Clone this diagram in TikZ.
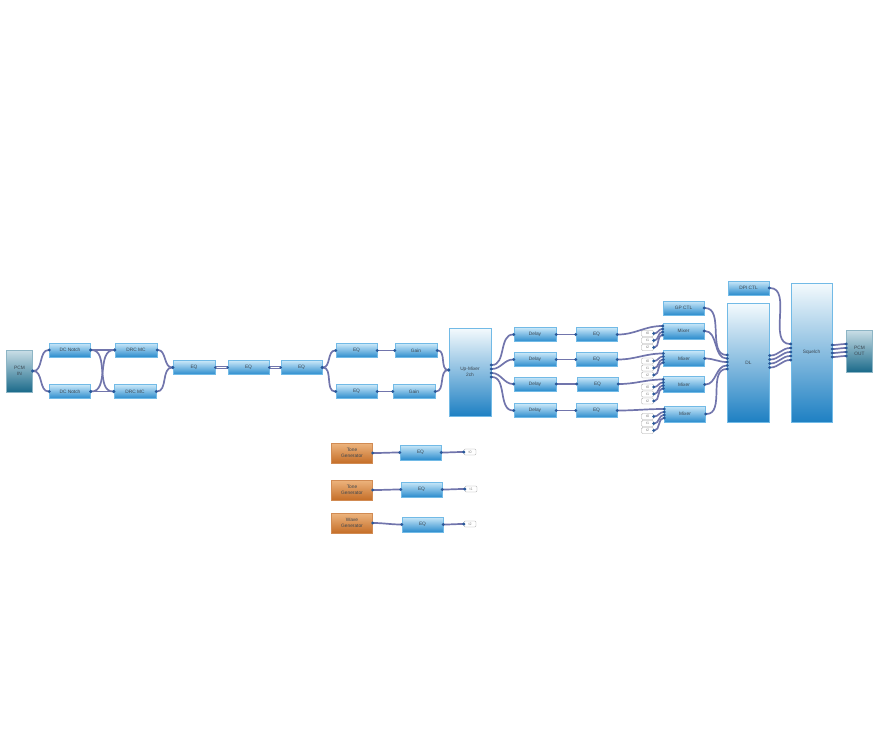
\documentclass[tikz,border=0pt]{standalone}
\usepackage{fontspec}
\setmainfont{Liberation Sans}
\usetikzlibrary{arrows.meta,calc}
\definecolor{btop}{HTML}{CAE8F9}
\definecolor{bbot}{HTML}{2B8CCD}
\definecolor{bbord}{HTML}{72BAE6}
\definecolor{gtop}{HTML}{F4FAFD}
\definecolor{gbot}{HTML}{1E80C3}
\definecolor{ptop}{HTML}{CADFE7}
\definecolor{pbot}{HTML}{1B6A8A}
\definecolor{otop}{HTML}{EDB47E}
\definecolor{obot}{HTML}{C56E28}
\definecolor{wirec}{HTML}{7175AC}
\definecolor{portc}{HTML}{28589A}
\definecolor{txtc}{HTML}{3C4650}
\tikzset{
 box/.style={rectangle, draw=bbord, line width=0.5pt, top color=btop, bottom color=bbot,
   inner sep=0pt, font=\fontsize{4.8}{5.6}\selectfont, text=txtc, align=center,
   minimum width=41pt, minimum height=14pt},
 bigbox/.style={box, top color=gtop, bottom color=gbot, minimum width=42pt},
 pcmbox/.style={box, draw=pbot!50, top color=ptop, bottom color=pbot, minimum width=26pt, minimum height=42pt},
 genbox/.style={box, draw=obot!80, top color=otop, bottom color=obot, minimum height=20pt},
 tagbox/.style={rectangle, rounded corners=1.2pt, draw=gray!70, fill=white, line width=0.4pt,
   minimum width=12pt, minimum height=6pt, inner sep=0pt, font=\fontsize{3.6}{4}\selectfont, text=gray},
 wire/.style={draw=wirec, line width=1.7pt,
   {Circle[length=2.8pt,color=portc]}-{Circle[length=2.8pt,color=portc]},
   shorten <=-1.4pt, shorten >=-1.4pt},
 dbl/.style={draw=wirec, line width=1.1pt, double=white, double distance=1.3pt},
 port/.style={fill=portc},
}
\begin{document}
\begin{tikzpicture}[x=1pt,y=-1pt]
\useasboundingbox (0,0) rectangle (875,753);
% ---- nodes
\node[pcmbox] (pin) at (19.5,371) {PCM\\IN};
\node[box] (dcn1) at (70,350) {DC Notch};
\node[box] (dcn2) at (70,391.5) {DC Notch};
\node[box, minimum width=42pt] (drc1) at (136,350) {DRC MC};
\node[box, minimum width=42pt] (drc2) at (135,391.5) {DRC MC};
\node[box, minimum width=42pt] (eqa) at (194,367.5) {EQ};
\node[box] (eqb) at (248.5,367.5) {EQ};
\node[box] (eqc) at (301.5,367.5) {EQ};
\node[box] (eqt) at (356.5,350.5) {EQ};
\node[box, minimum width=42pt] (gt) at (416,350.5) {Gain};
\node[box] (eql) at (356.5,391.5) {EQ};
\node[box, minimum width=42pt] (gb) at (414,391.5) {Gain};
\node[bigbox, minimum height=88pt] (um) at (470,372) {Up-Mixer\\2ch};
\foreach \k/\y in {1/334.5,2/359.5,3/384,4/410.5}
  \node[box, minimum width=42pt] (dl\k) at (535,\y) {Delay};
\node[box] (eqr1) at (596.5,334.5) {EQ};
\node[box] (eqr2) at (596.5,359.5) {EQ};
\node[box] (eqr3) at (597.5,384) {EQ};
\node[box] (eqr4) at (596.5,410.5) {EQ};
\node[box] (gp) at (683.5,308) {GP CTL};
\foreach \k/\y/\x in {1/331/683.5,2/358.5/684,3/384.5/684,4/414/685}{
  \node[box, minimum height=16pt] (mx\k) at (\x,\y) {Mixer};
  \foreach \j/\d in {0/2.5,1/9.5,2/16.5}
    \node[tagbox] (tg\k\j) at (647.5,\y+\d) {t\j};
}
\node[bigbox, minimum height=119pt] (dlb) at (748.5,362.5) {DL};
\node[box] (dpi) at (748.5,288) {DPI CTL};
\node[bigbox, minimum width=41pt, minimum height=139pt] (sq) at (811.5,352.5) {Squelch};
\node[pcmbox] (pout) at (859.5,351) {PCM\\OUT};
\node[genbox] (g1) at (352,453) {Tone\\Generator};
\node[genbox] (g2) at (352,490) {Tone\\Generator};
\node[genbox] (g3) at (352,523) {Wave\\Generator};
\node[box, minimum height=15pt] (ge1) at (420.5,452.5) {EQ};
\node[box, minimum height=15pt] (ge2) at (421.5,489.5) {EQ};
\node[box, minimum height=15pt] (ge3) at (422.5,524.5) {EQ};
\node[tagbox] (gt1) at (470,452) {t0};
\node[tagbox] (gt2) at (471,489) {t1};
\node[tagbox] (gt3) at (470,524) {t2};
% ---- connectors
\draw[wire] (pin.east) to[out=0,in=180] (dcn1.west);
\draw[wire] (pin.east) to[out=0,in=180] (dcn2.west);
\foreach \a in {dcn1,dcn2}\foreach \b in {drc1,drc2}
  \draw[wire] (\a.east) to[out=0,in=180] (\b.west);
\draw[wire] (drc1.east) to[out=0,in=180] (eqa.west);
\draw[wire] (drc2.east) to[out=0,in=180] (eqa.west);
\draw[dbl] (eqa.east) -- (eqb.west);
\draw[dbl] (eqb.east) -- (eqc.west);
\foreach \p in {eqa.east,eqb.west,eqb.east,eqc.west} \fill[port] (\p) circle (1.4);
\draw[wire] (eqc.east) to[out=0,in=180] (eqt.west);
\draw[wire] (eqc.east) to[out=0,in=180] (eql.west);
\draw[wire] (eqt.east) -- (gt.west);
\draw[wire] (eql.east) -- (gb.west);
\draw[wire] (gt.east) to[out=0,in=180] ($(um.west)+(0,-2)$);
\draw[wire] (gb.east) to[out=0,in=180] ($(um.west)+(0,-2)$);
\foreach \k/\o in {1/-7,2/-3,3/1,4/5}{
  \draw[wire] ($(um.east)+(0,\o)$) to[out=0,in=180] (dl\k.west);
  \draw[wire] (dl\k.east) to[out=0,in=180] (eqr\k.west);
  \draw[wire] (eqr\k.east) to[out=0,in=180] ($(mx\k.west)+(0,-5)$);
  \foreach \j/\q in {0/-2,1/1,2/4}
    \draw[wire] (tg\k\j.east) to[out=0,in=180] ($(mx\k.west)+(0,\q)$);
}
\draw[wire] (gp.east) to[out=0,in=180] ($(dlb.west)+(0,-7.5)$);
\foreach \k/\o in {1/-4,2/-0.5,3/3,4/6.5}
  \draw[wire] (mx\k.east) to[out=0,in=180] ($(dlb.west)+(0,\o)$);
\foreach \a/\b in {-7/-4.5,-3/-0.5,1/3.5,5/7.5}
  \draw[wire] ($(dlb.east)+(0,\a)$) to[out=0,in=180] ($(sq.west)+(0,\b)$);
\draw[wire] (dpi.east) to[out=0,in=180] ($(sq.west)+(0,-8.5)$);
\foreach \a/\b in {-7.5/-7,-3.5/-3,0.5/1,4.5/5}
  \draw[wire] ($(sq.east)+(0,\a)$) to[out=0,in=180] ($(pout.west)+(0,\b)$);
\foreach \k in {1,2,3}{
  \draw[wire] (g\k.east) to[out=0,in=180] (ge\k.west);
  \draw[wire] (ge\k.east) to[out=0,in=180] (gt\k.west);
}
\end{tikzpicture}
\end{document}
